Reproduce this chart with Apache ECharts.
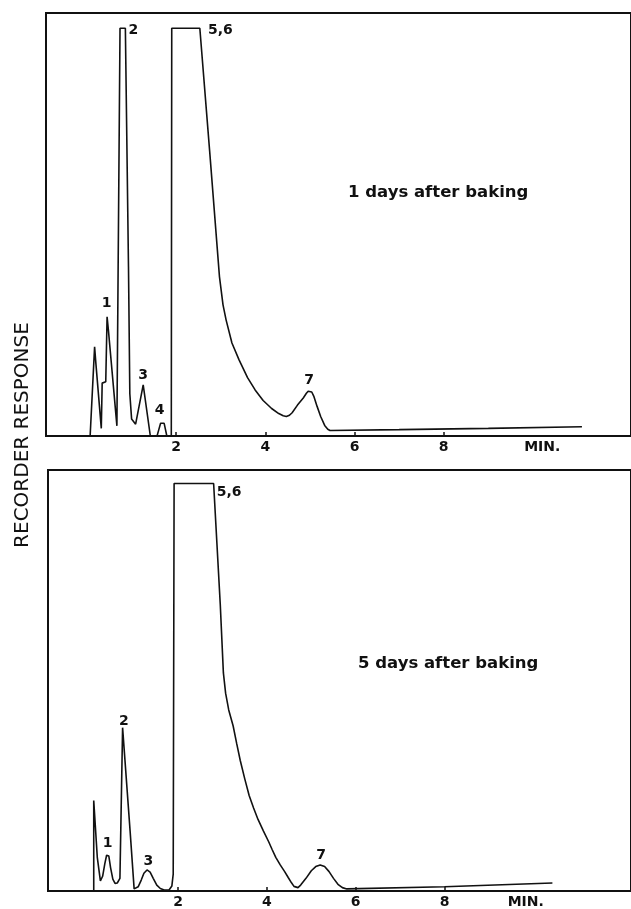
<!DOCTYPE html>
<html>
<head>
<meta charset="utf-8">
<script src="https://cdn.jsdelivr.net/npm/echarts@6/dist/echarts.min.js"></script>
<style>
html,body{margin:0;padding:0;background:#fff;}
#chart{width:631px;height:909px;}
</style>
</head>
<body>
<div id="chart"></div>
<script>
// ---- data: retention time (min) vs recorder response (relative %) ----
const tickValues = [2, 4, 6, 8];
const tickLabels = ['2', '4', '6', '8'];
const unitLabel = 'MIN.';
const yAxisTitle = 'RECORDER RESPONSE';
const panelTitles = ['1 days after baking', '5 days after baking'];

const trace1Day = [
  [0.07,0],[0.17,21.1],[0.20,17.0],[0.32,1.8],[0.34,12.5],[0.42,12.8],[0.45,28.2],
  [0.48,25.0],[0.67,2.4],[0.70,2.2],[0.74,96.4],[0.86,96.4],[0.93,40],[0.96,10],
  [1.00,4.0],[1.09,2.8],[1.26,12.1],[1.42,0],[1.57,0],[1.61,1.5],[1.65,3.0],[1.69,3.4],
  [1.73,3.0],[1.76,1.5],[1.79,0],[1.89,0],[1.90,96.4],[2.53,96.4],[2.75,67.4],
  [2.97,37.7],[3.05,31.0],[3.12,27.4],[3.25,22.0],[3.41,18.0],[3.60,13.8],[3.77,10.9],
  [3.95,8.4],[4.14,6.5],[4.30,5.3],[4.40,4.8],[4.47,4.6],[4.54,4.9],[4.60,5.5],[4.72,7.3],
  [4.85,9.0],[4.92,10.1],[4.96,10.6],[5.00,10.7],[5.04,10.4],[5.09,9.3],[5.16,7.0],
  [5.24,4.6],[5.33,2.5],[5.40,1.6],[5.45,1.3],[7.0,1.5],[9.0,1.8],[11.1,2.2]
];
const trace5Day = [
  [0.10,0],[0.10,21.5],[0.18,8.0],[0.25,2.4],[0.30,3.5],[0.35,6.5],[0.39,8.5],[0.41,8.9],
  [0.44,8.3],[0.48,5.5],[0.53,2.8],[0.58,1.8],[0.63,1.9],[0.69,3.0],[0.75,38.8],
  [0.92,14.1],[1.01,0.5],[1.10,1.0],[1.17,2.6],[1.23,4.2],[1.30,5.0],[1.37,4.5],
  [1.44,3.0],[1.52,1.4],[1.60,0.6],[1.70,0.2],[1.80,0.3],[1.86,1.2],[1.89,4.0],
  [1.91,96.8],[2.80,96.8],[2.95,68.0],[3.02,51.8],[3.07,47.0],[3.14,43.0],[3.24,39.2],
  [3.32,35.0],[3.40,31.0],[3.50,26.7],[3.60,22.7],[3.70,19.7],[3.80,17.0],[3.92,14.3],
  [4.04,11.7],[4.12,9.8],[4.20,8.0],[4.30,6.2],[4.40,4.6],[4.48,3.2],[4.55,2.0],
  [4.61,1.1],[4.65,0.7],[4.70,0.8],[4.76,1.4],[4.88,3.0],[5.00,4.8],[5.10,5.8],
  [5.20,6.2],[5.30,5.8],[5.40,4.6],[5.50,3.0],[5.60,1.6],[5.70,0.8],[5.80,0.5],
  [8.0,1.0],[10.43,1.9]
];
const peakLabels1Day = [
  ['2', 1.04, 96.0], ['5,6', 2.99, 96.0], ['1', 0.44, 31.4],
  ['3', 1.26, 14.4], ['4', 1.63, 6.1], ['7', 4.98, 13.2]
];
const peakLabels5Day = [
  ['5,6', 3.15, 94.6], ['2', 0.78, 40.4], ['1', 0.41, 11.3],
  ['3', 1.33, 7.1], ['7', 5.22, 8.5]
];

// ---- chart ----
const FONT = 'DejaVu Sans';
const INK = '#111';
const chart = echarts.init(document.getElementById('chart'), null, {renderer: 'canvas'});

function xAxisFor(gridIndex, min, minLabelAt) {
  return {
    type: 'value', gridIndex: gridIndex, min: min, max: 12.2,
    axisLine: {show: true, onZero: false, lineStyle: {color: INK, width: 2}},
    splitLine: {show: false},
    axisTick: {show: true, inside: true, length: 4, customValues: tickValues,
      lineStyle: {color: INK, width: 1.5}},
    axisLabel: {
      show: true, margin: 4, color: INK, fontFamily: FONT, fontWeight: 'bold', fontSize: 14,
      customValues: tickValues.concat([minLabelAt]),
      formatter: function (v) {
        const i = tickValues.indexOf(v);
        return i >= 0 ? tickLabels[i] : unitLabel;
      }
    }
  };
}
function yAxisFor(gridIndex) {
  return {
    type: 'value', gridIndex: gridIndex, min: 0, max: 100,
    axisLine: {show: false}, axisTick: {show: false}, axisLabel: {show: false},
    splitLine: {show: false}
  };
}
function labelSeries(idx, arr) {
  return {
    type: 'scatter', xAxisIndex: idx, yAxisIndex: idx, symbolSize: 0, silent: true,
    itemStyle: {opacity: 1},
    data: arr.map(function (p) { return {name: p[0], value: [p[1], p[2]]}; }),
    label: {show: true, position: 'inside', formatter: '{b}', color: INK, opacity: 1,
      fontFamily: FONT, fontWeight: 'bold', fontSize: 14}
  };
}
function traceSeries(idx, arr) {
  return {
    type: 'line', xAxisIndex: idx, yAxisIndex: idx, data: arr, showSymbol: false,
    smooth: false, silent: true, lineStyle: {color: INK, width: 1.6}
  };
}

chart.setOption({
  animation: false,
  backgroundColor: '#fff',
  grid: [
    {left: 46, top: 13, width: 599, height: 423, show: true, borderColor: INK, borderWidth: 2},
    {left: 48, top: 470, width: 604, height: 423, show: true, borderColor: INK, borderWidth: 2}
  ],
  xAxis: [xAxisFor(0, -0.92, 10.21), xAxisFor(1, -0.93, 9.83)],
  yAxis: [yAxisFor(0), yAxisFor(1)],
  series: [
    traceSeries(0, trace1Day), traceSeries(1, trace5Day),
    labelSeries(0, peakLabels1Day), labelSeries(1, peakLabels5Day)
  ],
  graphic: [
    {type: 'text', x: 23, y: 435, rotation: Math.PI / 2,
      style: {text: yAxisTitle, fill: INK, font: 'normal 20px "DejaVu Sans"',
        textAlign: 'center', textVerticalAlign: 'middle'}},
    {type: 'text', x: 348, y: 193,
      style: {text: panelTitles[0], fill: INK, font: 'bold 16.5px "DejaVu Sans"',
        textAlign: 'left', textVerticalAlign: 'middle'}},
    {type: 'text', x: 358, y: 664,
      style: {text: panelTitles[1], fill: INK, font: 'bold 16.5px "DejaVu Sans"',
        textAlign: 'left', textVerticalAlign: 'middle'}}
  ]
});
</script>
</body>
</html>
